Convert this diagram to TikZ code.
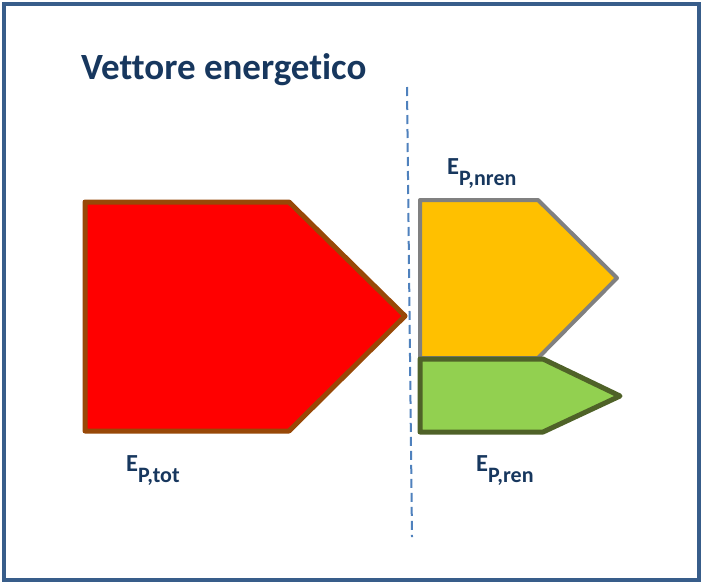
\documentclass[tikz,border=0pt]{standalone}
\usepackage{fontspec}
\setmainfont[Ligatures=NoCommon]{Carlito}
\definecolor{frameblue}{HTML}{385D8A}
\definecolor{navy}{HTML}{17375E}
\definecolor{redbrown}{HTML}{984807}
\definecolor{orangefill}{HTML}{FFC000}
\definecolor{greyline}{HTML}{808080}
\definecolor{greenfill}{HTML}{92D050}
\definecolor{greenline}{HTML}{4F6228}
\definecolor{dashblue}{HTML}{4F81BD}
\newcommand{\subtxt}[1]{\raisebox{-11pt}{\bfseries\fontsize{22}{26}\selectfont #1}}
\tikzset{
  shapebox/.style={line width=5pt, line join=round},
  lbl/.style={text=navy, font=\bfseries\fontsize{24.5}{28}\selectfont, inner sep=0pt, anchor=base west},
}
\begin{document}
\begin{tikzpicture}[x=1pt,y=-1pt]
\useasboundingbox (0,0) rectangle (703,584);
\fill[white] (0,0) rectangle (703,584);
\draw[frameblue, line width=4pt] (4,3.5) rectangle (699,580);
\node[text=navy, font=\bfseries\fontsize{37}{42}\selectfont, inner sep=0pt, anchor=base west] (title) at (81,79) {Vettore energetico};
\coordinate (dtop) at (407,87);
\coordinate (dbot) at (412,537);
\draw[dashblue, line width=2pt, dash pattern=on 9pt off 5pt] (dtop) -- (dbot);
% red pentagon
\draw[shapebox, draw=redbrown, fill=red] (85,202) -- (289,202) -- (405,316) -- (289,431) -- (85,431) -- cycle;
% orange pentagon
\draw[shapebox, line width=4pt, draw=greyline, fill=orangefill] (420,200) -- (538,200) -- (617,278) -- (538,358) -- (420,358) -- cycle;
% green pentagon
\draw[shapebox, draw=greenline, fill=greenfill] (420,359) -- (543,359) -- (620,396) -- (543,432) -- (420,432) -- cycle;
\node[lbl] (ltot) at (126,471) {E\subtxt{P,tot}};
\node[lbl] (lnren) at (447,174) {E\subtxt{P,nren}};
\node[lbl] (lren) at (476,471) {E\subtxt{P,ren}};
\end{tikzpicture}
\end{document}
